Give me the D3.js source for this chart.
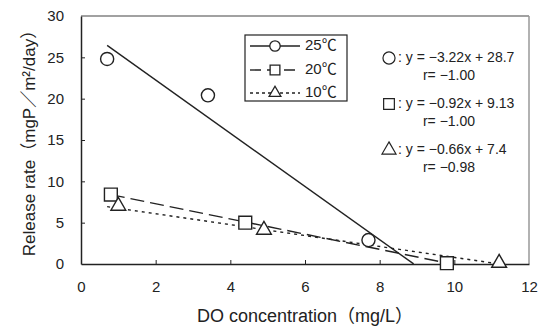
<!DOCTYPE html>
<html>
<head>
<meta charset="utf-8">
<script src="https://cdn.jsdelivr.net/npm/d3@7"></script>
<style>
  body { margin: 0; background: #fff; }
  text { font-family: "Liberation Sans", Arial, "Noto Sans CJK JP", sans-serif; fill: #222; }
</style>
</head>
<body>
<div id="chart"></div>
<script>
// measured points
const doC25 = [0.7, 3.4, 7.7]
const rate25 = [24.8, 20.4, 2.9]
const doC20 = [0.8, 4.4, 9.8]
const rate20 = [8.4, 5.0, 0.1]
const doC10 = [1.0, 4.9, 11.2]
const rate10 = [6.9, 4.0, 0.0]

// regression lines: slope, intercept, x range
const fit25 = { a: -3.22, b: 28.7, x0: 0.7, x1: 8.91 }
const fit20 = { a: -0.92, b: 9.13, x0: 0.8, x1: 9.9 }
const fit10 = { a: -0.66, b: 7.4, x0: 0.7, x1: 11.2 }

const legendLabels = ['25℃', '20℃', '10℃']
const eqLabels = [': y = −3.22x + 28.7', ': y = −0.92x + 9.13', ': y = −0.66x + 7.4']
const rLabels = ['r= −1.00', 'r= −1.00', 'r= −0.98']
const xTicks = [0, 2, 4, 6, 8, 10, 12]
const yTicks = [0, 5, 10, 15, 20, 25, 30]

const width = 543, height = 334
const margin = { left: 81, right: 14, top: 16, bottom: 70 }

const svg = d3.select('#chart').append('svg')
    .attr('width', width)
    .attr('height', height)

const x = d3.scaleLinear().domain([0, 12]).range([margin.left, width - margin.right])
const y = d3.scaleLinear().domain([0, 30]).range([height - margin.bottom, margin.top])

// frame
svg.append('line').attr('x1', x(0)).attr('x2', x(12)).attr('y1', y(30)).attr('y2', y(30))
    .attr('stroke', '#444').attr('stroke-width', 1.2)
svg.append('line').attr('x1', x(12)).attr('x2', x(12)).attr('y1', y(30)).attr('y2', y(0))
    .attr('stroke', '#999').attr('stroke-width', 1.5)

const xAxis = svg.append('g')
    .attr('transform', `translate(0,${y(0)})`)
    .call(d3.axisBottom(x).tickValues(xTicks).tickSizeInner(-4).tickSizeOuter(0).tickPadding(17))
const yAxis = svg.append('g')
    .attr('transform', `translate(${x(0)},0)`)
    .call(d3.axisLeft(y).tickValues(yTicks).tickSizeInner(-4).tickSizeOuter(0).tickPadding(17))

for (const ax of [xAxis, yAxis]) {
    ax.select('.domain').attr('stroke', '#222').attr('stroke-width', 1.5)
    ax.selectAll('.tick line').attr('stroke', '#222')
    ax.selectAll('.tick text').attr('font-size', 15).style('fill', '#222')
        .attr('font-family', '"Liberation Sans", Arial, sans-serif')
}
xAxis.selectAll('.tick').filter(d => d === 0 || d === 12).select('line').remove()
yAxis.selectAll('.tick').filter(d => d === 0 || d === 30).select('line').remove()

// axis titles
svg.append('text')
    .attr('transform', `translate(31,139) rotate(-90)`)
    .attr('text-anchor', 'middle')
    .attr('dominant-baseline', 'middle')
    .attr('font-size', 17)
    .text('Release rate（mgP／m²/day）')

svg.append('text')
    .attr('x', 305).attr('y', 317)
    .attr('text-anchor', 'middle')
    .attr('dominant-baseline', 'middle')
    .attr('font-size', 18)
    .text('DO concentration（mg/L）')

// regression lines
const fits = [
    { f: fit25, dash: null },
    { f: fit20, dash: '14,6' },
    { f: fit10, dash: '3,4' }
]
svg.selectAll('.fit')
    .data(fits)
    .join('line')
    .attr('class', 'fit')
    .attr('x1', d => x(d.f.x0)).attr('y1', d => y(d.f.a * d.f.x0 + d.f.b))
    .attr('x2', d => x(d.f.x1)).attr('y2', d => y(Math.max(0, d.f.a * d.f.x1 + d.f.b)))
    .attr('stroke', '#222')
    .attr('stroke-width', 1.4)
    .attr('stroke-dasharray', d => d.dash)

// markers
function drawMarkers(xs, ys, type, size, dy) {
    svg.append('g').selectAll('path')
        .data(xs.map((v, i) => [v, ys[i]]))
        .join('path')
        .attr('d', d3.symbol().type(type).size(size))
        .attr('transform', d => `translate(${x(d[0])},${y(d[1]) + dy})`)
        .attr('fill', '#fff')
        .attr('stroke', '#222')
        .attr('stroke-width', 1.4)
}
drawMarkers(doC25, rate25, d3.symbolCircle, 135, 0)
drawMarkers(doC20, rate20, d3.symbolSquare, 165, 0)
drawMarkers(doC10, rate10, d3.symbolTriangle, 95, -1)

// legend
const legend = svg.append('g')
legend.append('rect')
    .attr('x', 245).attr('y', 35).attr('width', 102).attr('height', 66)
    .attr('fill', '#fff').attr('stroke', '#222').attr('stroke-width', 1.2)
const legRows = [46, 70, 93]
const legSyms = [
    d3.symbol().type(d3.symbolCircle).size(85),
    d3.symbol().type(d3.symbolSquare).size(95),
    d3.symbol().type(d3.symbolTriangle).size(60)
]
legendLabels.forEach((lab, i) => {
    legend.append('line')
        .attr('x1', 250).attr('x2', 300).attr('y1', legRows[i]).attr('y2', legRows[i])
        .attr('stroke', '#222').attr('stroke-width', 1.4)
        .attr('stroke-dasharray', fits[i].dash ? (i === 1 ? '11,6' : '3,3') : null)
    legend.append('path')
        .attr('d', legSyms[i]())
        .attr('transform', `translate(275,${legRows[i]})`)
        .attr('fill', '#fff').attr('stroke', '#222').attr('stroke-width', 1.3)
    legend.append('text')
        .attr('x', 305).attr('y', legRows[i])
        .attr('dominant-baseline', 'middle')
        .attr('font-size', 15)
        .text(lab)
})

// equations
const eqRows = [58, 104, 150]
const eqSyms = [
    d3.symbol().type(d3.symbolCircle).size(115),
    d3.symbol().type(d3.symbolSquare).size(115),
    d3.symbol().type(d3.symbolTriangle).size(85)
]
eqLabels.forEach((lab, i) => {
    svg.append('path')
        .attr('d', eqSyms[i]())
        .attr('transform', `translate(389,${eqRows[i]})`)
        .attr('fill', 'none').attr('stroke', '#222').attr('stroke-width', 1.2)
    svg.append('text')
        .attr('x', 398).attr('y', eqRows[i])
        .attr('dominant-baseline', 'middle')
        .attr('font-size', 14)
        .text(lab)
    svg.append('text')
        .attr('x', 449).attr('y', eqRows[i] + 18)
        .attr('text-anchor', 'middle')
        .attr('dominant-baseline', 'middle')
        .attr('font-size', 14)
        .text(rLabels[i])
})
</script>
</body>
</html>
